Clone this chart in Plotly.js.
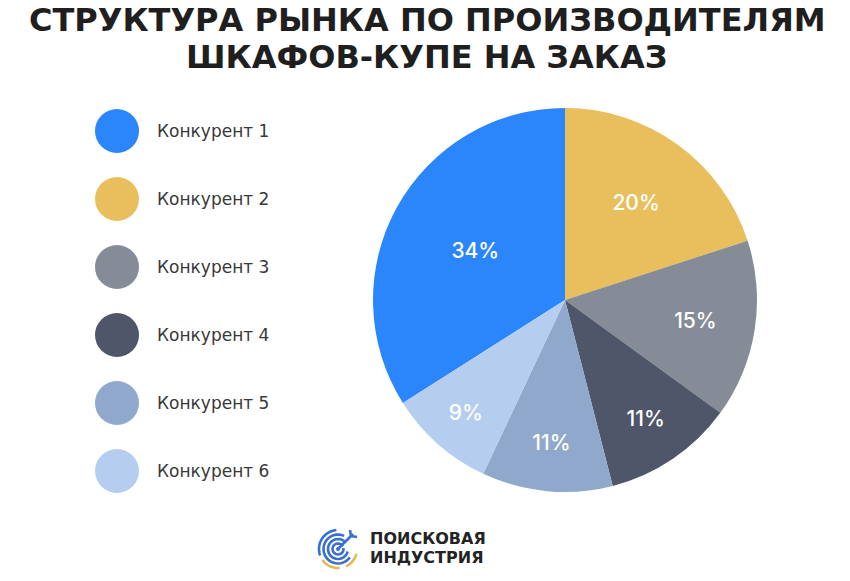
<!DOCTYPE html>
<html><head><meta charset="utf-8">
<script src="https://cdn.plot.ly/plotly-3.0.1.min.js"></script>
<style>html,body{margin:0;padding:0;background:#fff}</style>
</head><body><div id="chart" style="width:850px;height:581px"></div>
<script>
// ---- data ----
const categories = ['Конкурент 1', 'Конкурент 2', 'Конкурент 3', 'Конкурент 4', 'Конкурент 5', 'Конкурент 6'];
const shares = [34, 20, 15, 11, 11, 9];
const sliceColors = ['#2b86fb', '#e8bf5c', '#858c98', '#4f566a', '#90a8cb', '#b5ceef'];
const titleLines = ['СТРУКТУРА РЫНКА ПО ПРОИЗВОДИТЕЛЯМ', 'ШКАФОВ-КУПЕ НА ЗАКАЗ'];
const logoLines = ['ПОИСКОВАЯ', 'ИНДУСТРИЯ'];

const W = 850, H = 581;
const px = x => x / W;
const py = y => 1 - y / H;

// rotate so that the first category ends at 12 o'clock
const total = shares.reduce((a, b) => a + b, 0);
const rotation = -shares[0] / total * 360;

const pie = {
  type: 'pie',
  labels: categories,
  values: shares,
  sort: false,
  direction: 'clockwise',
  rotation: rotation,
  marker: {colors: sliceColors, line: {width: 0}},
  texttemplate: '%{value}%',
  textposition: 'inside',
  insidetextorientation: 'horizontal',
  textfont: {family: 'Inter, Noto Sans, sans-serif', size: 21, color: '#ffffff', weight: 500},
  domain: {x: [px(373), px(757)], y: [py(492), py(108)]},
  hoverinfo: 'label+percent',
  showlegend: false
};

const legendDots = {
  type: 'scatter',
  mode: 'markers',
  x: categories.map(() => 0),
  y: categories,
  xaxis: 'x', yaxis: 'y',
  marker: {size: 44, color: sliceColors, line: {width: 0}},
  hoverinfo: 'skip',
  showlegend: false
};

// logo icon helpers
function arcPath(cx, cy, r, a0, a1) {
  let d = '';
  const n = 24;
  for (let i = 0; i <= n; i++) {
    const a = (a0 + (a1 - a0) * i / n) * Math.PI / 180;
    const x = cx + r * Math.cos(a), y = cy - r * Math.sin(a);
    d += (i === 0 ? 'M' : 'L') + px(x).toFixed(5) + ',' + py(y).toFixed(5);
  }
  return d;
}
const icx = 338, icy = 549;
const blue = '#3a6fd2', gold = '#e2b955';
const ringDefs = [
  [19, 95, 200, blue], [19, 215, 275, gold], [19, 295, 345, gold],
  [14.5, 65, 325, blue], [10, 45, 345, blue], [5.5, 30, 370, blue]
];
const shapes = ringDefs.map(([r, a0, a1, c]) => ({
  type: 'path', xref: 'paper', yref: 'paper', path: arcPath(icx, icy, r, a0, a1),
  line: {color: c, width: 2.6}
}));
shapes.push({type: 'circle', xref: 'paper', yref: 'paper',
  x0: px(icx - 2), x1: px(icx + 2), y0: py(icy + 2), y1: py(icy - 2),
  fillcolor: blue, line: {width: 0}});
shapes.push({type: 'path', xref: 'paper', yref: 'paper',
  path: 'M' + px(icx) + ',' + py(icy) + 'L' + px(icx + 15) + ',' + py(icy - 15),
  line: {color: blue, width: 2.6}});
shapes.push({type: 'path', xref: 'paper', yref: 'paper',
  path: 'M' + px(icx + 12) + ',' + py(icy - 19) + 'L' + px(icx + 13) + ',' + py(icy - 13) + 'L' + px(icx + 19) + ',' + py(icy - 12),
  line: {color: blue, width: 2.6}});

const annotations = [];
titleLines.forEach((t, i) => annotations.push({
  xref: 'paper', yref: 'paper', x: px(427), y: py(i === 0 ? 0 : 37.5),
  text: t, showarrow: false, xanchor: 'center', yanchor: 'top', borderpad: 0,
  font: {family: 'DejaVu Sans, sans-serif', size: 32, color: '#1f1f1f', weight: 'bold'}
}));
categories.forEach(c => annotations.push({
  xref: 'x', yref: 'y', x: 0, y: c, text: c, showarrow: false,
  xanchor: 'left', yanchor: 'middle', xshift: 38,
  font: {family: 'DejaVu Sans, sans-serif', size: 17, color: '#383838'}
}));
logoLines.forEach((t, i) => annotations.push({
  xref: 'paper', yref: 'paper', x: px(369), y: py(i === 0 ? 538.5 : 557.5),
  text: t, showarrow: false, xanchor: 'left', yanchor: 'middle', borderpad: 0,
  font: {family: 'DejaVu Sans, sans-serif', size: 16, color: '#232323', weight: 'bold'}
}));

const layout = {
  width: W, height: H,
  margin: {l: 0, r: 0, t: 0, b: 0},
  paper_bgcolor: '#ffffff', plot_bgcolor: 'rgba(0,0,0,0)',
  showlegend: false,
  xaxis: {domain: [0, px(234)], range: [-1, 1], visible: false, fixedrange: true},
  yaxis: {domain: [py(505), py(97)], type: 'category', categoryarray: categories,
          range: [categories.length - 0.5, -0.5], visible: false, fixedrange: true},
  annotations: annotations,
  shapes: shapes
};

Plotly.newPlot('chart', [pie, legendDots], layout, {displayModeBar: false, staticPlot: true});
</script>
</body></html>
